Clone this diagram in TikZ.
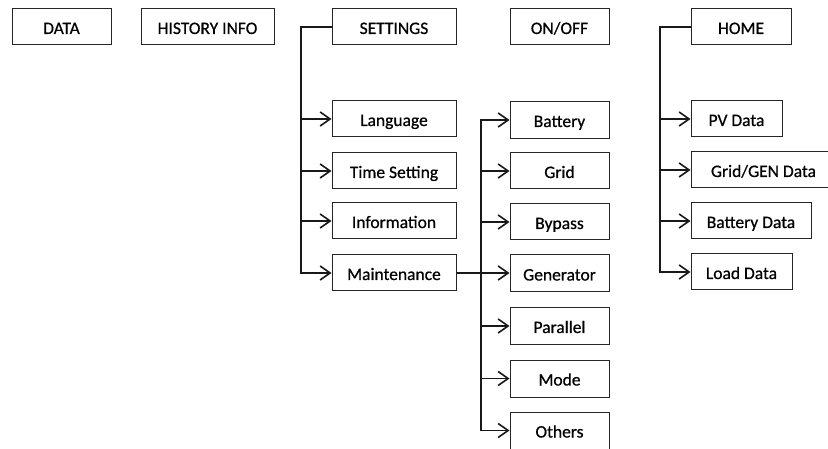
\documentclass[tikz,border=0pt]{standalone}
\usepackage{fontspec}
\setmainfont{Carlito}[FakeBold=0.6,AutoFakeBold=0.6]
\newfontfamily\boxfont{Carlito}[FakeBold=0.6,AutoFakeBold=0.6]
\usetikzlibrary{arrows.meta}
\begin{document}
\begin{tikzpicture}[x=1pt,y=-1pt,
  box/.style={draw=black!85, line width=1pt, rectangle, minimum height=36pt, inner sep=0pt,
    text height=16pt, text depth=2pt,
    font=\boxfont\fontsize{17.5}{20}\selectfont, text=black},
  conn/.style={draw=black!90, line width=1.6pt},
  arr/.style={conn, -{Straight Barb[length=10pt,width=14pt,line width=1.6pt]}}]
\useasboundingbox (0,0) rectangle (828,449);
\clip (0,0) rectangle (828,449);
\fill[white] (0,0) rectangle (828,449);
% top row
\node[box, minimum width=99pt] (data) at (61.5,27) {DATA};
\node[box, minimum width=133pt] (hist) at (207.5,27) {HISTORY INFO};
\node[box, minimum width=124pt] (settings) at (394,27) {SETTINGS};
\node[box, minimum width=99pt] (onoff) at (559.5,27) {ON/OFF};
\node[box, minimum width=100pt] (home) at (741,27) {HOME};
% settings children
\node[box, minimum width=124pt] (lang) at (394,119) {Language};
\node[box, minimum width=124pt] (time) at (394,171) {Time Setting};
\node[box, minimum width=124pt] (info) at (394,221) {Information};
\node[box, minimum width=124pt] (maint) at (394,273) {Maintenance};
% on/off children
\node[box, minimum width=99pt, minimum height=37pt] (bat) at (559.5,120) {Battery};
\node[box, minimum width=99pt] (grid) at (559.5,171) {Grid};
\node[box, minimum width=99pt] (bypass) at (559.5,222) {Bypass};
\node[box, minimum width=99pt, minimum height=37pt] (gen) at (559.5,273.5) {Generator};
\node[box, minimum width=99pt, minimum height=37pt] (par) at (559.5,326) {Parallel};
\node[box, minimum width=99pt, minimum height=37pt] (mode) at (559.5,378.5) {Mode};
\node[box, minimum width=99pt, minimum height=37pt] (oth) at (559.5,430.5) {Others};
% home children
\node[box, minimum width=91pt] (pv) at (736.5,119) {PV Data};
\node[box, minimum width=145pt] (gg) at (763.5,170) {Grid/GEN Data};
\node[box, minimum width=120pt] (bd) at (751,221) {Battery Data};
\node[box, minimum width=101pt] (ld) at (741.5,272) {Load Data};
% trunks
\coordinate (st) at (301,27);
\coordinate (ot) at (481,120);
\coordinate (ht) at (660,27);
% settings connectors
\draw[arr] (settings.west) -- (st) |- (maint.west);
\draw[arr] (st |- lang.west) -- (lang.west);
\draw[arr] (st |- time.west) -- (time.west);
\draw[arr] (st |- info.west) -- (info.west);
% on/off connectors
\draw[arr] (ot |- oth.west) -- (ot |- bat.west) -- (bat.west);
\draw[arr] (ot |- oth.west) -- (oth.west);
\draw[arr] (ot |- grid.west) -- (grid.west);
\draw[arr] (ot |- bypass.west) -- (bypass.west);
\draw[arr] (ot |- par.west) -- (par.west);
\draw[arr] (ot |- mode.west) -- (mode.west);
\draw[arr] (maint.east) -- (maint.east -| gen.west);
% home connectors
\draw[arr] (home.west) -- (ht) |- (ld.west);
\draw[arr] (ht |- pv.west) -- (pv.west);
\draw[arr] (ht |- gg.west) -- (gg.west);
\draw[arr] (ht |- bd.west) -- (bd.west);
\end{tikzpicture}
\end{document}
